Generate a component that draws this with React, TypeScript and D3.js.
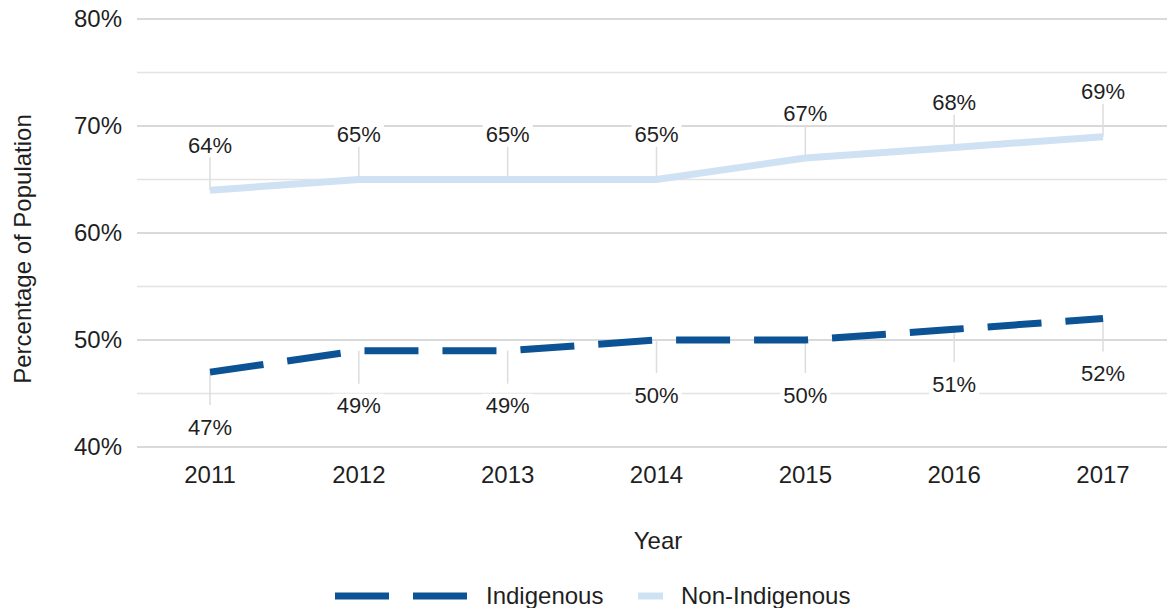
import { useEffect, useRef } from 'react'
import * as d3 from 'd3'

const years = ['2011', '2012', '2013', '2014', '2015', '2016', '2017']
const indigenous = [47, 49, 49, 50, 50, 51, 52]
const nonIndigenous = [64, 65, 65, 65, 67, 68, 69]
const yTicks = [40, 50, 60, 70, 80]
const yMinor = [45, 55, 65, 75]

const W = 1167
const H = 608
const FONT = '"Liberation Sans", Arial, sans-serif'
const DARK = '#0b5394'
const LIGHT = '#cfe2f3'
const TEXT = '#1f1f1f'

export default function App() {
  const svgRef = useRef<SVGSVGElement | null>(null)

  useEffect(() => {
    if (!svgRef.current) return
    const svg = d3.select(svgRef.current)
    svg.selectAll('*').remove()

    const x = d3.scalePoint<string>().domain(years).range([210, 1103])
    const y = d3.scaleLinear().domain([40, 80]).range([447, 19])
    const gridLeft = 137

    // grid
    svg.append('g').selectAll('line')
      .data(yMinor)
      .join('line')
      .attr('x1', gridLeft).attr('x2', W)
      .attr('y1', d => y(d)).attr('y2', d => y(d))
      .attr('stroke', '#e3e3e3').attr('stroke-width', 1.5)

    svg.append('g').selectAll('line')
      .data(yTicks)
      .join('line')
      .attr('x1', gridLeft).attr('x2', W)
      .attr('y1', d => y(d)).attr('y2', d => y(d))
      .attr('stroke', '#cccccc').attr('stroke-width', 1.5)

    // y tick labels
    svg.append('g').selectAll('text')
      .data(yTicks)
      .join('text')
      .attr('x', 122).attr('y', d => y(d))
      .attr('dy', '0.35em')
      .attr('text-anchor', 'end')
      .attr('font-size', 24).attr('font-family', FONT).attr('fill', TEXT)
      .text(d => `${d}%`)

    // x tick labels
    svg.append('g').selectAll('text')
      .data(years)
      .join('text')
      .attr('x', d => x(d) ?? 0).attr('y', 483)
      .attr('text-anchor', 'middle')
      .attr('font-size', 24).attr('font-family', FONT).attr('fill', TEXT)
      .text(d => d)

    // axis titles
    svg.append('text')
      .attr('x', 658).attr('y', 549)
      .attr('text-anchor', 'middle')
      .attr('font-size', 24).attr('font-family', FONT).attr('fill', TEXT)
      .text('Year')

    svg.append('text')
      .attr('transform', 'translate(31,249) rotate(-90)')
      .attr('text-anchor', 'middle')
      .attr('font-size', 24).attr('font-family', FONT).attr('fill', TEXT)
      .text('Percentage of Population')

    const line = d3.line<number>()
      .x((_, i) => x(years[i]) ?? 0)
      .y(d => y(d))

    // leader lines + labels
    const labels = (data: number[], dir: number) => {
      const g = svg.append('g')
      data.forEach((v, i) => {
        const px = x(years[i]) ?? 0
        const py = y(v)
        const cy = dir < 0 ? py - 45 : py + 55
        g.append('line')
          .attr('x1', px).attr('x2', px)
          .attr('y1', py).attr('y2', dir < 0 ? py - 33 : py + 33)
          .attr('stroke', '#dddddd').attr('stroke-width', 1.5)
        g.append('rect')
          .attr('x', px - 25).attr('y', cy - 12)
          .attr('width', 50).attr('height', 24)
          .attr('fill', '#fff')
        g.append('text')
          .attr('x', px).attr('y', cy)
          .attr('dy', '0.35em')
          .attr('text-anchor', 'middle')
          .attr('font-size', 22).attr('font-family', FONT).attr('fill', TEXT)
          .text(`${v}%`)
      })
    }
    labels(nonIndigenous, -1)
    labels(indigenous, 1)

    svg.append('path')
      .datum(nonIndigenous)
      .attr('d', line)
      .attr('fill', 'none')
      .attr('stroke', LIGHT).attr('stroke-width', 7)

    svg.append('path')
      .datum(indigenous)
      .attr('d', line)
      .attr('fill', 'none')
      .attr('stroke', DARK).attr('stroke-width', 7)
      .attr('stroke-dasharray', '54 24')

    // legend
    const ly = 596
    svg.append('line')
      .attr('x1', 335).attr('x2', 467).attr('y1', ly).attr('y2', ly)
      .attr('stroke', DARK).attr('stroke-width', 7)
      .attr('stroke-dasharray', '54 24')
    svg.append('text')
      .attr('x', 486).attr('y', 604)
      .attr('font-size', 24).attr('font-family', FONT).attr('fill', TEXT)
      .text('Indigenous')
    svg.append('line')
      .attr('x1', 638).attr('x2', 663).attr('y1', ly).attr('y2', ly)
      .attr('stroke', LIGHT).attr('stroke-width', 7)
    svg.append('text')
      .attr('x', 681).attr('y', 604)
      .attr('font-size', 24).attr('font-family', FONT).attr('fill', TEXT)
      .text('Non-Indigenous')
  }, [])

  return (
    <svg
      ref={svgRef}
      width={W}
      height={H}
      style={{ position: 'absolute', left: 0, top: 0, background: '#fff', display: 'block' }}
    />
  )
}
